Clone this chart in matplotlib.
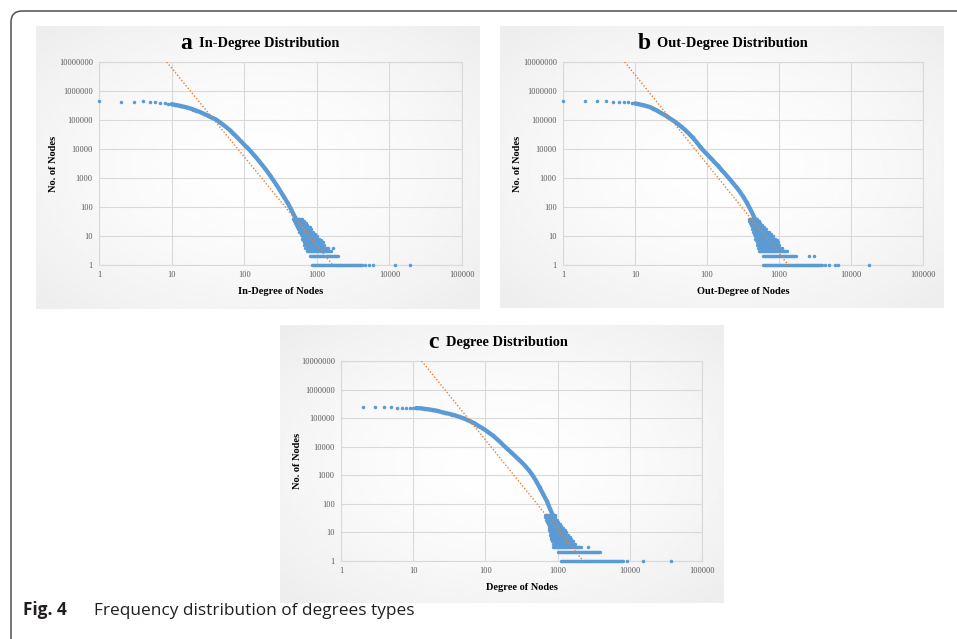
import numpy as np
import matplotlib
matplotlib.use("Agg")
import matplotlib.pyplot as plt
from matplotlib.patches import FancyBboxPatch
from matplotlib.ticker import FixedLocator, FuncFormatter, NullLocator

# Values (degree, number of nodes)

# a - In-Degree
a_deg = [1, 2, 3, 4, 5, 6, 7, 8, 9, 10, 11, 13, 14, 16, 18, 20, 22, 25, 28, 32, 35,
         40, 45, 50, 56, 63, 71, 79, 89, 100, 112, 126, 141, 158, 178, 200, 224, 251,
         282, 316, 355, 398, 447, 501, 562, 631]
a_cnt = [447000, 423000, 423000, 457000, 434000, 423000, 401000, 380000, 370000, 351000,
         335000, 309000, 295000, 275000, 251000, 229000, 209000, 186000, 162000, 140000,
         124000, 107000, 88000, 72000, 58000, 45000, 34000, 26000, 19000, 14100, 10700,
         7800, 5600, 4000, 2750, 1900, 1290, 850, 550, 347, 219, 135, 79, 44, 22, 11]
a_tail_cnt = [40, 34, 28, 24, 20, 17, 14, 12, 10, 8, 7, 6, 5, 4, 3, 2, 1]
a_tail_lo = [468, 479, 501, 513, 537, 550, 575, 603, 617, 631, 646, 661, 676, 692, 724, 813, 851]
a_tail_hi = [631, 661, 708, 741, 794, 832, 891, 933, 1000, 1072, 1148, 1202, 1259, 1413, 1585, 1950, 4170]
a_out_deg = [1650, 4600, 5300, 5900, 12000, 19200]
a_out_cnt = [4, 1, 1, 1, 1, 1]
a_fit_deg = [8.55, 1660]
a_fit_cnt = [1e7, 1]

# b - Out-Degree
b_deg = [1, 2, 3, 4, 5, 6, 7, 8, 9, 10, 11, 13, 14, 16, 18, 20, 22, 25, 28, 32, 35,
         40, 45, 50, 56, 63, 71, 79, 89, 100, 112, 126, 141, 158, 178, 200, 224, 251,
         282, 316, 355, 398, 447, 501, 562]
b_cnt = [457000, 457000, 437000, 437000, 427000, 427000, 417000, 407000, 398000, 372000,
         355000, 324000, 309000, 282000, 245000, 214000, 186000, 155000, 132000, 105000,
         91000, 71000, 56000, 45000, 34000, 25000, 17800, 12600, 8900, 6600, 4900, 3600,
         2700, 1950, 1400, 1000, 720, 510, 355, 234, 145, 85, 47, 24, 11]
b_tail_cnt = [40, 34, 28, 24, 20, 17, 14, 12, 10, 8, 7, 6, 5, 4, 3, 2, 1]
b_tail_lo = [380, 389, 398, 407, 417, 427, 437, 447, 457, 468, 479, 490, 501, 513, 525, 603, 603]
b_tail_hi = [501, 525, 550, 575, 617, 661, 724, 776, 832, 891, 912, 955, 1000, 1047, 1288, 1698, 3980]
b_out_deg = [950, 1100, 2570, 3100, 4400, 5000, 5900, 6600, 18000]
b_out_cnt = [7, 4, 2, 2, 1, 1, 1, 1, 1]
b_fit_deg = [7.2, 1350]
b_fit_cnt = [1e7, 1]

# c - Degree
c_deg = [2, 3, 4, 5, 6, 7, 8, 9, 10, 11, 13, 14, 16, 18, 20, 22, 25, 28, 32, 35, 40,
         45, 50, 56, 63, 71, 79, 89, 100, 112, 126, 141, 158, 178, 200, 224, 251, 282,
         316, 355, 398, 447, 501, 562, 631, 708, 794, 891, 1000]
c_cnt = [251000, 240000, 240000, 240000, 234000, 234000, 234000, 229000, 229000,
         226000, 219000, 214000, 204000, 195000, 186000, 178000, 162000, 151000, 141000,
         132000, 120000, 108000, 98000, 87000, 76000, 65000, 55000, 46000, 38000, 31000,
         25000, 19500, 15100, 11200, 8500, 6600, 5000, 3800, 2900, 2140, 1520, 1030, 650,
         380, 219, 126, 63, 32, 16]
c_tail_cnt = [40, 34, 28, 24, 20, 17, 14, 12, 10, 8, 7, 6, 5, 4, 3, 2, 1]
c_tail_lo = [661, 676, 692, 708, 741, 750, 759, 767, 776, 794, 804, 813, 832, 851, 871, 1023, 1109]
c_tail_hi = [912, 933, 977, 1000, 1072, 1122, 1202, 1259, 1318, 1413, 1479, 1549, 1622, 1738, 2138, 3846, 8128]
c_out_deg = [2630, 9180, 15000, 36900]
c_out_cnt = [3, 1, 1, 1]
c_fit_deg = [13.1, 2260]
c_fit_cnt = [1e7, 1]

x_ticks = [1, 10, 100, 1000, 10000, 100000]
y_ticks = [1, 10, 100, 1000, 10000, 100000, 1000000, 10000000]

BLUE = "#5b9bd5"
ORANGE = "#ed7d31"
GRID = "#d9d9d9"

plt.rcParams["font.family"] = ["Liberation Serif", "DejaVu Serif"]

W, H = 957, 639
fig = plt.figure(figsize=(W / 100, H / 100), dpi=100)

# background layer in pixel coordinates
bg = fig.add_axes([0, 0, 1, 1])
bg.axis("off")

yy, xx = np.mgrid[-1:1:150j, -1:1:240j]
shade = 0.997 - 0.065 * np.clip(np.sqrt(xx ** 2 + yy ** 2) / 1.35, 0, 1) ** 1.6


def px_axes(x0, y0, x1, y1):
    return fig.add_axes([x0 / W, 1 - y1 / H, (x1 - x0) / W, (y1 - y0) / H])


def draw_panel(box, area, letter, title, xlabel, deg, cnt, t_cnt, t_lo, t_hi,
               o_deg, o_cnt, f_deg, f_cnt, title_y, ylab_x):
    bx0, by0, bx1, by1 = box
    bg.imshow(shade, cmap="gray", vmin=0, vmax=1, extent=(bx0, bx1, by1, by0),
              aspect="auto", interpolation="bilinear", zorder=0)

    ax = px_axes(*area)
    ax.set_facecolor("none")
    ax.set_xscale("log")
    ax.set_yscale("log")
    ax.set_xlim(1, 1e5)
    ax.set_ylim(1, 1e7)
    ax.xaxis.set_major_locator(FixedLocator(x_ticks))
    ax.yaxis.set_major_locator(FixedLocator(y_ticks))
    ax.xaxis.set_minor_locator(NullLocator())
    ax.yaxis.set_minor_locator(NullLocator())
    fmt = FuncFormatter(lambda v, p: f"{v:.0f}")
    ax.xaxis.set_major_formatter(fmt)
    ax.yaxis.set_major_formatter(fmt)
    ax.tick_params(length=0, labelsize=6, labelcolor="#595959", pad=4.5)
    ax.grid(True, color=GRID, lw=0.8)
    ax.set_axisbelow(True)
    for s in ax.spines.values():
        s.set_color(GRID)
        s.set_linewidth(0.8)

    # main curve (dense points) + tail rows of points
    ax.plot(deg[9:], cnt[9:], color=BLUE, lw=3.1, solid_capstyle="round",
            solid_joinstyle="round", clip_on=False, zorder=3)
    ax.scatter(deg, cnt, s=6.5, color=BLUE, linewidths=0, clip_on=False, zorder=3)
    rows = ax.hlines(t_cnt, t_lo, t_hi, color=BLUE, lw=2.5, clip_on=False, zorder=3)
    rows.set_capstyle("round")
    ax.scatter(o_deg, o_cnt, s=6.5, color=BLUE, linewidths=0, clip_on=False, zorder=3)

    # power law fit
    ax.plot(f_deg, f_cnt, color=ORANGE, lw=1.0, ls=(0, (1, 1.4)), zorder=4)

    ax0, ay0, ax1, ay1 = area
    cx = (ax0 + ax1) / 2
    bg.text(letter[1], title_y + 1.5, letter[0], fontsize=17, fontweight="bold",
            ha="center", va="baseline")
    bg.text(letter[1] + 13, title_y, title, fontsize=10.4, fontweight="bold",
            ha="left", va="baseline")
    bg.text(cx, ay1 + 26, xlabel, fontsize=7.5, fontweight="bold",
            ha="center", va="center")
    bg.text(ylab_x, (ay0 + ay1) / 2, "No. of Nodes", fontsize=7.5,
            fontweight="bold", rotation=90, ha="center", va="center")


draw_panel((36, 26, 480, 309), (99, 62, 462, 265), ("a", 186), "In-Degree Distribution",
           "In-Degree of Nodes", a_deg, a_cnt, a_tail_cnt, a_tail_lo, a_tail_hi,
           a_out_deg, a_out_cnt, a_fit_deg, a_fit_cnt, 47.5, 53)
draw_panel((500, 26, 944, 308), (563, 62, 923, 265), ("b", 644), "Out-Degree Distribution",
           "Out-Degree of Nodes", b_deg, b_cnt, b_tail_cnt, b_tail_lo, b_tail_hi,
           b_out_deg, b_out_cnt, b_fit_deg, b_fit_cnt, 47.5, 517)
draw_panel((280, 325, 724, 603), (341, 361, 702, 561), ("c", 433), "Degree Distribution",
           "Degree of Nodes", c_deg, c_cnt, c_tail_cnt, c_tail_lo, c_tail_hi,
           c_out_deg, c_out_cnt, c_fit_deg, c_fit_cnt, 346, 298)

# outer frame with rounded corner
frame = FancyBboxPatch((11, 11), 1100, 800, boxstyle="round,pad=0,rounding_size=11",
                       fill=False, ec="#505050", lw=1.1, clip_on=False)
bg.add_patch(frame)

# caption
bg.text(23, 615, "Fig. 4", fontfamily="Open Sans", fontweight="bold", fontsize=12.4,
        color="#231f20", va="baseline")
bg.text(94, 615, "Frequency distribution of degrees types", fontfamily="Open Sans",
        fontsize=12.4, color="#231f20", va="baseline")

bg.set_xlim(0, W)
bg.set_ylim(H, 0)

fig.savefig("out.png", dpi=100)
